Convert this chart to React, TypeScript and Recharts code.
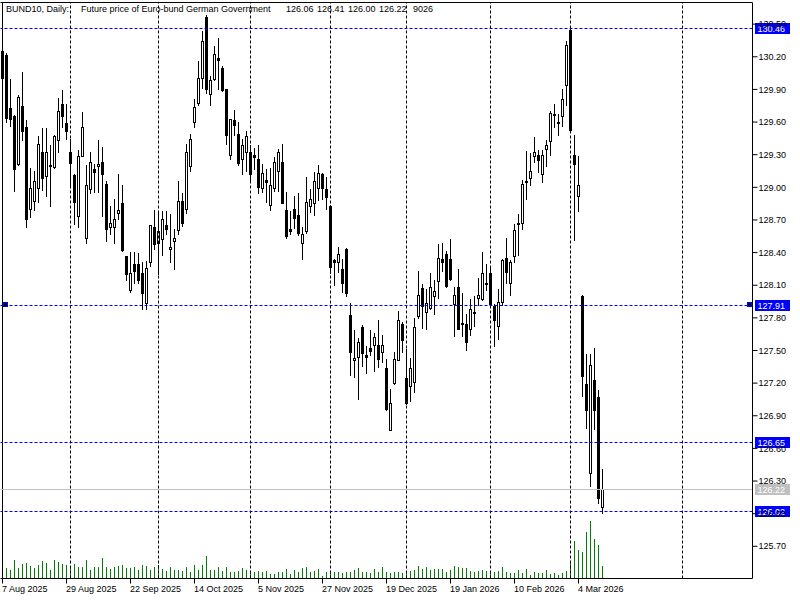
import React from 'react';
import { ComposedChart, Bar, XAxis, YAxis, ReferenceLine } from 'recharts';

// ---- data (daily bars, 7 Aug 2025 .. 12 Mar 2026) ----
const opens = [
  130.25, 130.21, 129.72, 129.65, 129.21, 129.74, 129.55, 128.80, 128.87, 128.99,
  129.32, 129.10, 129.19, 129.18, 129.43, 129.76, 129.59, 129.32, 129.11, 128.73,
  129.28, 128.53, 128.98, 129.16, 129.19, 129.23, 129.03, 128.63, 128.63, 128.76,
  128.85, 128.36, 128.05, 128.29, 128.29, 128.21, 127.93, 128.31, 128.63, 128.48,
  128.52, 128.65, 128.43, 128.50, 128.60, 128.87, 128.80, 129.19, 129.60, 129.77,
  130.00, 130.56, 129.85, 129.99, 130.18, 130.09, 129.90, 129.29, 129.61, 129.49,
  129.26, 129.32, 129.32, 129.29, 129.26, 128.99, 129.06, 128.83, 128.99, 129.15,
  129.23, 128.79, 128.61, 128.80, 128.74, 128.48, 128.59, 128.82, 128.85, 128.99,
  129.12, 128.98, 128.82, 128.33, 128.31, 128.24, 128.43, 127.82, 127.41, 127.44,
  127.71, 127.45, 127.52, 127.55, 127.55, 127.48, 127.33, 126.76, 127.20, 127.41,
  127.74, 127.24, 127.17, 127.21, 127.81, 128.07, 127.85, 127.89, 128.00, 128.13,
  128.34, 128.38, 128.34, 127.92, 128.08, 127.75, 127.74, 127.69, 127.85, 127.98,
  127.97, 128.12, 128.21, 127.90, 127.72, 127.94, 128.35, 128.12, 128.36, 128.67,
  128.67, 129.05, 129.08, 129.28, 129.29, 129.12, 129.35, 129.42, 129.67, 129.60,
  129.65, 129.94, 130.44, 129.29, 128.92, 128.00, 127.19, 126.37, 127.22, 127.07,
  126.06,
];
const highs = [
  130.26, 130.23, 129.99, 129.66, 129.84, 130.06, 129.61, 129.17, 129.15, 129.47,
  129.54, 129.54, 129.38, 129.48, 129.82, 129.89, 129.76, 129.44, 129.12, 129.34,
  129.69, 129.20, 129.32, 129.21, 129.43, 129.37, 129.05, 128.82, 128.89, 129.12,
  129.02, 128.36, 128.40, 128.40, 128.39, 128.31, 128.32, 128.65, 128.79, 128.78,
  128.78, 128.78, 128.75, 128.61, 129.05, 128.94, 129.39, 129.49, 129.81, 130.16,
  130.43, 130.58, 130.02, 130.29, 130.37, 130.11, 129.90, 129.62, 129.71, 129.60,
  129.44, 129.51, 129.38, 129.36, 129.38, 129.21, 129.16, 129.17, 129.27, 129.35,
  129.39, 128.95, 128.78, 128.92, 128.94, 128.63, 129.09, 128.98, 129.14, 129.20,
  129.13, 129.09, 128.83, 128.34, 128.45, 128.34, 128.44, 127.93, 127.68, 127.61,
  127.73, 127.54, 127.68, 127.66, 127.78, 127.64, 127.42, 127.14, 127.48, 127.86,
  127.76, 127.51, 127.43, 127.79, 128.23, 128.11, 128.06, 128.21, 128.14, 128.47,
  128.48, 128.41, 128.52, 128.08, 128.24, 128.02, 127.83, 127.97, 128.00, 128.16,
  128.40, 128.29, 128.25, 127.92, 128.06, 128.34, 128.53, 128.33, 128.66, 128.75,
  129.06, 129.33, 129.31, 129.46, 129.34, 129.34, 129.43, 129.70, 129.76, 129.67,
  129.90, 130.34, 130.46, 129.48, 129.28, 128.01, 127.46, 127.46, 127.52, 127.13,
  126.41,
];
const lows = [
  129.96, 129.60, 129.56, 128.96, 129.20, 129.43, 128.63, 128.72, 128.79, 128.86,
  128.97, 128.92, 128.82, 129.17, 129.32, 129.55, 129.44, 129.02, 128.66, 128.63,
  129.28, 128.48, 128.94, 128.95, 128.95, 128.73, 128.50, 128.57, 128.48, 128.70,
  128.41, 128.14, 128.03, 128.12, 128.12, 127.88, 127.88, 128.27, 128.43, 128.20,
  128.37, 128.57, 128.31, 128.24, 128.57, 128.64, 128.76, 129.15, 129.55, 129.75,
  129.91, 129.86, 129.75, 129.98, 129.90, 129.88, 129.39, 129.26, 129.48, 129.20,
  129.12, 129.15, 129.04, 129.16, 128.94, 128.95, 128.86, 128.79, 128.96, 128.96,
  128.85, 128.53, 128.57, 128.62, 128.56, 128.34, 128.58, 128.77, 128.74, 128.88,
  128.89, 128.80, 128.21, 128.10, 128.22, 128.03, 128.00, 127.27, 127.25, 127.05,
  127.35, 127.29, 127.45, 127.31, 127.34, 127.39, 126.95, 126.76, 127.19, 127.41,
  127.48, 127.00, 127.03, 127.11, 127.79, 127.70, 127.69, 127.88, 127.83, 127.98,
  128.23, 128.08, 128.14, 127.63, 127.69, 127.63, 127.50, 127.64, 127.72, 127.91,
  127.96, 128.05, 127.91, 127.54, 127.60, 127.91, 128.12, 128.01, 128.31, 128.37,
  128.61, 128.89, 129.02, 129.23, 129.14, 129.04, 129.19, 129.29, 129.55, 129.48,
  129.56, 129.75, 129.50, 128.51, 128.78, 127.08, 126.78, 126.25, 126.77, 126.09,
  126.00,
];
const closes = [
  130.00, 129.63, 129.62, 129.16, 129.83, 129.51, 128.70, 128.99, 129.05, 129.39,
  129.08, 129.32, 129.20, 129.47, 129.70, 129.65, 129.51, 129.22, 128.86, 129.28,
  129.55, 129.02, 129.23, 129.14, 129.21, 129.12, 128.61, 128.67, 128.70, 128.79,
  128.42, 128.20, 128.21, 128.23, 128.14, 128.02, 128.25, 128.65, 128.47, 128.59,
  128.70, 128.61, 128.45, 128.53, 128.87, 128.67, 129.32, 129.44, 129.73, 130.00,
  130.34, 129.90, 129.98, 130.22, 130.17, 129.89, 129.48, 129.62, 129.57, 129.22,
  129.38, 129.47, 129.12, 129.27, 129.00, 129.13, 129.04, 129.02, 129.23, 129.32,
  128.85, 128.55, 128.59, 128.71, 128.58, 128.57, 128.86, 128.89, 129.05, 129.13,
  128.99, 128.91, 128.26, 128.31, 128.38, 128.12, 128.02, 127.48, 127.43, 127.57,
  127.47, 127.44, 127.49, 127.62, 127.42, 127.55, 126.96, 127.01, 127.42, 127.78,
  127.59, 127.01, 127.33, 127.71, 128.01, 127.90, 127.93, 128.08, 128.04, 128.35,
  128.31, 128.09, 128.15, 128.01, 127.69, 127.74, 127.57, 127.88, 127.84, 128.01,
  128.21, 128.11, 127.92, 127.78, 127.94, 128.33, 128.22, 128.31, 128.60, 128.66,
  129.03, 129.04, 129.15, 129.32, 129.25, 129.29, 129.38, 129.68, 129.66, 129.59,
  129.81, 130.30, 129.52, 129.21, 129.02, 127.26, 126.95, 127.36, 126.95, 126.14,
  126.22,
];
const volumes = [
  7330, 7550, 6080, 13410, 7550, 10480, 11210, 9020, 7550, 9750,
  12680, 11210, 6080, 13410, 11950, 10480, 9750, 8800, 10480, 8280,
  8280, 13410, 6080, 8280, 8280, 14880, 8280, 6820, 8280, 9020,
  9750, 7550, 7550, 8280, 6080, 9750, 9020, 6080, 8280, 9750,
  6820, 5350, 8280, 6080, 6080, 5350, 8280, 4620, 9750, 6080,
  9750, 16350, 6080, 6080, 8280, 5350, 8280, 4620, 4620, 5350,
  7550, 6080, 5350, 4620, 5350, 4620, 5350, 3150, 3150, 4620,
  4620, 6820, 3150, 6080, 4620, 7550, 8280, 4620, 5350, 6820,
  1690, 4620, 5350, 4620, 4620, 3880, 4620, 4620, 6080, 7550,
  4620, 4620, 3880, 6820, 4620, 8280, 4620, 3880, 4620, 4620,
  3880, 5350, 5350, 6080, 9020, 6820, 8280, 6080, 6820, 6820,
  6820, 4620, 6080, 9020, 8280, 7550, 7550, 5350, 4620, 5350,
  6080, 5350, 5350, 4620, 5350, 8280, 4620, 3880, 3880, 6080,
  3880, 6820, 2420, 4620, 3880, 3880, 6080, 3150, 3880, 2420,
  3880, 5350, 11950, 27340, 20740, 19280, 33940, 42000, 28810, 24410,
  9026,
];

const tickIndex = [0, 16, 32, 48, 64, 80, 96, 112, 128, 144];
const tickLabels = [
  '7 Aug 2025', '29 Aug 2025', '22 Sep 2025', '14 Oct 2025', '5 Nov 2025',
  '27 Nov 2025', '19 Dec 2025', '19 Jan 2026', '10 Feb 2026', '4 Mar 2026',
];
const monthStarts = [17, 39, 62, 82, 101, 122, 142, 170];
const priceTicks = [
  125.7, 126.0, 126.3, 126.6, 126.9, 127.2, 127.5, 127.8, 128.1,
  128.4, 128.7, 129.0, 129.3, 129.6, 129.9, 130.2, 130.5,
];
const userLevels = [130.46, 127.91, 126.65, 126.02];
const lastPrice = 126.22;
const titleParts = ['BUND10, Daily:', 'Future price of Euro-bund German Government', '126.06', '126.41', '126.00', '126.22', '9026'];

const TOTAL_SLOTS = 188;
const PRICE_MIN = 125.404;
const PRICE_MAX = 130.699;
const VOL_MAX = 422208;
const FONT = '"Liberation Sans", Arial, sans-serif';
const PLOT_BOTTOM = 578.5;

const data = Array.from({ length: TOTAL_SLOTS }, (_, i) =>
  i < opens.length
    ? { i, o: opens[i], h: highs[i], l: lows[i], c: closes[i], v: volumes[i] }
    : { i, o: null, h: null, l: null, c: null, v: null }
);

const Candle = (props: any) => {
  const { x, y, width, height, payload } = props;
  if (!payload || payload.o == null) return null;
  const { o, h, l, c } = payload;
  const top0 = Math.min(y, y + height);
  const hgt = Math.abs(height);
  const cx = Math.floor(x + width / 2);
  const per = h === l ? 0 : hgt / (h - l);
  const yOf = (p: number) => top0 + (h - p) * per;
  const yh = Math.floor(yOf(h));
  const yl = Math.floor(yOf(l));
  const yo = Math.floor(yOf(o));
  const yc = Math.floor(yOf(c));
  const top = Math.min(yo, yc);
  const bot = Math.max(yo, yc);
  const bull = c >= o;
  return (
    <g>
      <line x1={cx + 0.5} x2={cx + 0.5} y1={yh} y2={yl + 1} stroke="#000" strokeWidth={1} />
      {bull ? (
        bot - top >= 1 ? (
          <rect x={cx - 0.5} y={top + 0.5} width={2} height={bot - top} fill="#fff" stroke="#000" strokeWidth={1} />
        ) : (
          <rect x={cx - 1} y={top} width={3} height={1} fill="#000" />
        )
      ) : (
        <rect x={cx - 1} y={top} width={3} height={bot - top + 1} fill="#000" />
      )}
    </g>
  );
};

const VolBar = (props: any) => {
  const { x, y, width, height, payload } = props;
  if (!payload || payload.v == null) return null;
  const cx = Math.floor(x + width / 2);
  const top = Math.round(Math.min(y, y + height));
  const bottom = Math.round(Math.max(y, y + height));
  if (bottom - top <= 0) return null;
  return <rect x={cx} y={top} width={1} height={bottom - top} fill="#008000" />;
};

const DateTick = (props: any) => {
  const { x, y, payload } = props;
  const k = tickIndex.indexOf(payload.value);
  const label = k >= 0 ? tickLabels[k] : '';
  const lx = Math.floor(x) + 0.5;
  return (
    <g>
      <line x1={lx} x2={lx} y1={y} y2={y + 5} stroke="#000" />
      <text x={Math.floor(x)} y={y + 13.5} fontSize={9} fontFamily={FONT} fill="#000" textAnchor="start">
        {label}
      </text>
    </g>
  );
};

const crispH = (stroke: string, dash?: string) => (p: any) => {
  const yy = Math.floor(p.y1) + 0.5;
  return <line x1={p.x1} x2={p.x2} y1={yy} y2={yy} stroke={stroke} strokeWidth={1} strokeDasharray={dash} />;
};
const crispV = (stroke: string, dash?: string) => (p: any) => {
  const xx = Math.floor(p.x1) + 0.5;
  return <line x1={xx} x2={xx} y1={p.y1} y2={p.y2} stroke={stroke} strokeWidth={1} strokeDasharray={dash} />;
};

const priceTag = (value: number, fill: string, anchors: boolean) => (p: any) => {
  const vb = p.viewBox || {};
  const yy = Math.floor(vb.y);
  const right = vb.x + vb.width;
  return (
    <g>
      {anchors && (
        <>
          <rect x={3.5} y={yy - 2.5} width={4} height={4} fill="#000" stroke="#0000ff" />
          <rect x={right - 5} y={yy - 2.5} width={4} height={4} fill="#000" stroke="#0000ff" />
        </>
      )}
      <rect x={right + 2.5} y={yy - 5} width={35} height={11} fill={fill} />
      <text x={right + 5} y={yy + 4} fontSize={9} fontFamily={FONT} fill="#fff">
        {value.toFixed(2)}
      </text>
    </g>
  );
};

// title text and the left edge of the frame, drawn with the top frame line
const titleLabel = (p: any) => {
  const vb = p.viewBox || { x: 0.5, y: 2.5 };
  const lx = Math.floor(vb.x) + 2.5;
  return (
    <g>
      <line x1={lx} x2={lx} y1={vb.y} y2={PLOT_BOTTOM} stroke="#000" strokeWidth={1} />
      <g fontSize={9} fontFamily={FONT} fill="#000">
        <text x={6} y={12}>{titleParts[0]}</text>
        <text x={81} y={12}>{titleParts[1]}</text>
        <text x={286} y={12}>{titleParts[2]}</text>
        <text x={317} y={12}>{titleParts[3]}</text>
        <text x={348} y={12}>{titleParts[4]}</text>
        <text x={379} y={12}>{titleParts[5]}</text>
        <text x={413} y={12}>{titleParts[6]}</text>
      </g>
    </g>
  );
};

export default function App() {
  return (
    <div style={{ position: 'absolute', left: 0, top: 0, width: 800, height: 600, background: '#fff' }}>
      <ComposedChart
        width={800}
        height={600}
        data={data}
        margin={{ top: 2.5, right: 0, bottom: 0, left: 0.5 }}
        barCategoryGap={0}
        barGap={0}
      >
        <XAxis
          xAxisId="main"
          dataKey="i"
          type="category"
          height={21.5}
          ticks={tickIndex}
          interval={0}
          tickSize={0}
          tickMargin={0}
          tickLine={false}
          axisLine={{ stroke: '#000' }}
          tick={<DateTick />}
        />
        <XAxis xAxisId="vol" dataKey="i" type="category" hide />
        <YAxis
          yAxisId="price"
          orientation="right"
          type="number"
          domain={[PRICE_MIN, PRICE_MAX]}
          allowDataOverflow
          ticks={priceTicks}
          interval={0}
          width={47.5}
          tickSize={5}
          tickMargin={1}
          tickLine={{ stroke: '#000' }}
          axisLine={{ stroke: '#000' }}
          tickFormatter={(v: number) => v.toFixed(2)}
          tick={{ fontSize: 9, fill: '#000', fontFamily: FONT }}
        />
        <YAxis yAxisId="vol" type="number" domain={[0, VOL_MAX]} allowDataOverflow hide />

        {monthStarts.map((m) => (
          <ReferenceLine key={'m' + m} xAxisId="main" yAxisId="price" x={m} stroke="#000" strokeDasharray="3 2" shape={crispV('#000', '3 2')} />
        ))}

        <Bar xAxisId="vol" yAxisId="vol" dataKey="v" shape={<VolBar />} isAnimationActive={false} />
        <Bar
          xAxisId="main"
          yAxisId="price"
          dataKey={(d: any) => (d.o == null ? null : [d.l, d.h])}
          shape={<Candle />}
          isAnimationActive={false}
        />

        <ReferenceLine xAxisId="main" yAxisId="price" y={PRICE_MAX} stroke="#000" shape={crispH('#000')} label={titleLabel} />
        <ReferenceLine xAxisId="main" yAxisId="price" y={lastPrice} stroke="#c0c0c0" shape={crispH('#c0c0c0')} label={priceTag(lastPrice, '#c0c0c0', false)} />
        {userLevels.map((lv) => (
          <ReferenceLine
            key={'u' + lv}
            xAxisId="main"
            yAxisId="price"
            y={lv}
            stroke="#0000ff"
            strokeDasharray="3 2"
            shape={crispH('#0000ff', '3 2')}
            label={priceTag(lv, '#0000ff', lv === 127.91)}
          />
        ))}
      </ComposedChart>
    </div>
  );
}
